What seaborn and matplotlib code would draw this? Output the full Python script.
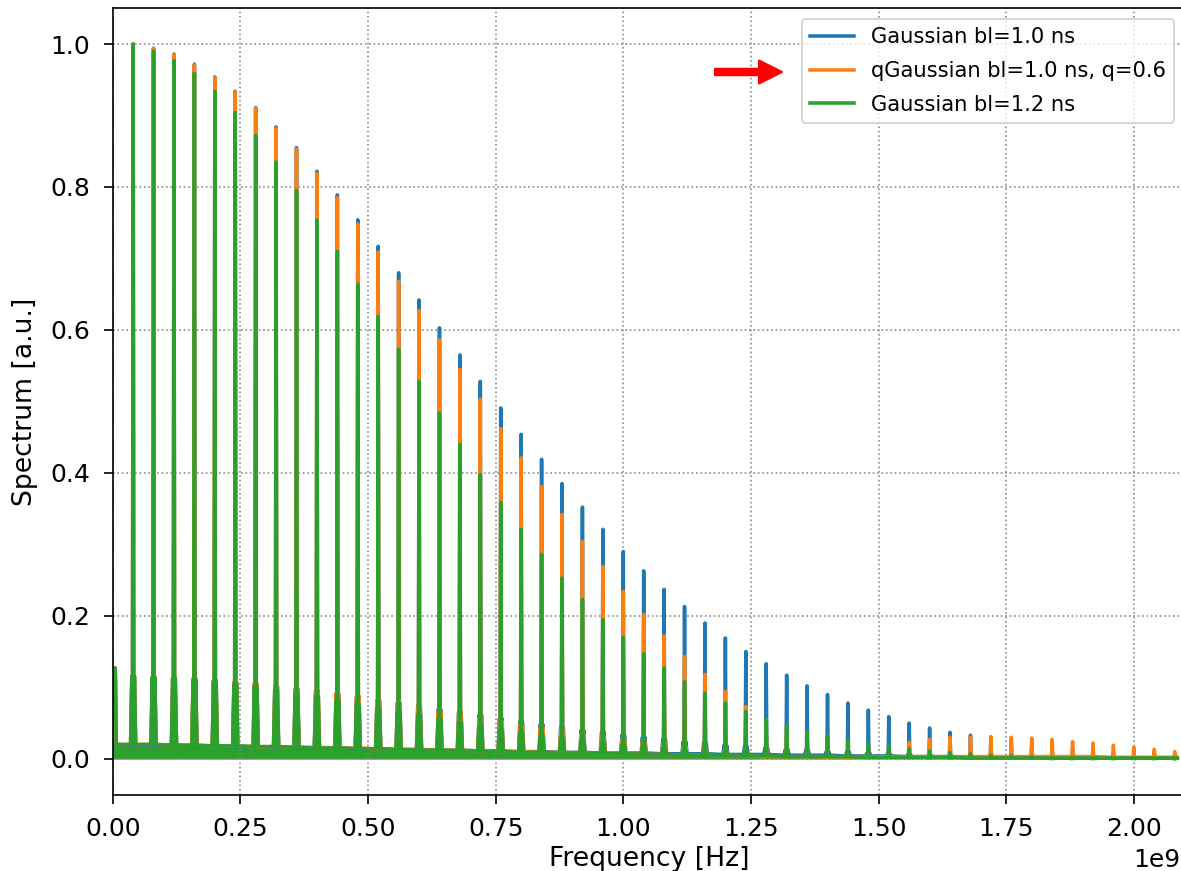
import numpy as np
import pandas as pd
import matplotlib
matplotlib.use("Agg")
import matplotlib.pyplot as plt
import seaborn as sns

# Bunch train spectrum: lines at multiples of the 40 MHz bunch repetition frequency
f_rev = 40e6
harmonic = np.arange(1, 53)

labels = ["Gaussian bl=1.0 ns", "qGaussian bl=1.0 ns, q=0.6", "Gaussian bl=1.2 ns"]
colors = ["#1f77b4", "#ff7f0e", "#2ca02c"]

# Height of each spectral line (normalised to the first harmonic)
peak_gauss_10 = [
    1.000, 0.994, 0.986, 0.972, 0.954, 0.934, 0.911, 0.884, 0.855, 0.822,
    0.789, 0.754, 0.717, 0.680, 0.642, 0.603, 0.565, 0.528, 0.491, 0.454,
    0.419, 0.385, 0.352, 0.321, 0.290, 0.263, 0.237, 0.213, 0.190, 0.169,
    0.150, 0.133, 0.117, 0.102, 0.090, 0.078, 0.068, 0.059, 0.050, 0.043,
    0.037, 0.033, 0.026, 0.022, 0.018, 0.015, 0.013, 0.011, 0.009, 0.007,
    0.006, 0.005,
]
peak_qgauss_10 = [
    1.000, 0.994, 0.985, 0.971, 0.953, 0.933, 0.910, 0.882, 0.853, 0.819,
    0.785, 0.748, 0.709, 0.668, 0.627, 0.586, 0.545, 0.503, 0.462, 0.421,
    0.381, 0.342, 0.304, 0.269, 0.234, 0.202, 0.172, 0.143, 0.118, 0.094,
    0.073, 0.054, 0.038, 0.024, 0.013, 0.005, 0.006, 0.014, 0.023, 0.027,
    0.030, 0.030, 0.031, 0.030, 0.029, 0.027, 0.024, 0.022, 0.019, 0.016,
    0.013, 0.010,
]
peak_gauss_12 = [
    1.000, 0.990, 0.977, 0.959, 0.934, 0.904, 0.872, 0.835, 0.795, 0.754,
    0.710, 0.664, 0.619, 0.573, 0.528, 0.484, 0.440, 0.398, 0.359, 0.321,
    0.286, 0.253, 0.223, 0.195, 0.170, 0.147, 0.127, 0.108, 0.092, 0.078,
    0.066, 0.056, 0.047, 0.038, 0.032, 0.026, 0.021, 0.018, 0.014, 0.011,
    0.009, 0.007, 0.005, 0.004, 0.003, 0.002, 0.002, 0.001, 0.001, 0.001,
    0.001, 0.000,
]

# First side lobe next to each line (finite train length)
lobe_gauss_10 = [
    0.115, 0.114, 0.113, 0.112, 0.110, 0.107, 0.105, 0.102, 0.098, 0.095,
    0.091, 0.087, 0.082, 0.078, 0.074, 0.069, 0.065, 0.061, 0.056, 0.052,
    0.048, 0.044, 0.040, 0.037, 0.033, 0.030, 0.027, 0.024, 0.022, 0.019,
    0.017, 0.015, 0.013, 0.012, 0.010, 0.009, 0.008, 0.007, 0.006, 0.005,
    0.004, 0.004, 0.003, 0.003, 0.002, 0.002, 0.001, 0.001, 0.001, 0.001,
    0.001, 0.001,
]
lobe_qgauss_10 = [
    0.115, 0.114, 0.113, 0.112, 0.110, 0.107, 0.105, 0.101, 0.098, 0.094,
    0.090, 0.086, 0.082, 0.077, 0.072, 0.067, 0.063, 0.058, 0.053, 0.048,
    0.044, 0.039, 0.035, 0.031, 0.027, 0.023, 0.020, 0.016, 0.014, 0.011,
    0.008, 0.006, 0.004, 0.003, 0.002, 0.001, 0.001, 0.002, 0.003, 0.003,
    0.003, 0.004, 0.004, 0.003, 0.003, 0.003, 0.003, 0.003, 0.002, 0.002,
    0.001, 0.001,
]
lobe_gauss_12 = [
    0.115, 0.114, 0.112, 0.110, 0.107, 0.104, 0.100, 0.096, 0.091, 0.087,
    0.082, 0.076, 0.071, 0.066, 0.061, 0.056, 0.051, 0.046, 0.041, 0.037,
    0.033, 0.029, 0.026, 0.022, 0.020, 0.017, 0.015, 0.012, 0.011, 0.009,
    0.008, 0.006, 0.005, 0.004, 0.004, 0.003, 0.002, 0.002, 0.002, 0.001,
    0.001, 0.001, 0.001, 0.001, 0.001, 0.000, 0.000, 0.000, 0.000, 0.000,
    0.000, 0.000,
]

# Level of the dense ripple between neighbouring lines
band_gauss_10 = [
    0.019, 0.019, 0.019, 0.018, 0.018, 0.017, 0.017, 0.016, 0.016, 0.015,
    0.015, 0.014, 0.014, 0.013, 0.013, 0.012, 0.012, 0.011, 0.011, 0.010,
    0.010, 0.009, 0.009, 0.008, 0.008, 0.008, 0.007, 0.007, 0.007, 0.006,
    0.006, 0.006, 0.005, 0.005, 0.005, 0.004, 0.004, 0.004, 0.003, 0.003,
    0.003, 0.002, 0.002, 0.002, 0.002, 0.001, 0.001, 0.001, 0.001, 0.001,
    0.001, 0.001,
]
band_qgauss_10 = [
    0.020, 0.020, 0.019, 0.019, 0.018, 0.018, 0.017, 0.017, 0.016, 0.016,
    0.015, 0.015, 0.014, 0.013, 0.013, 0.012, 0.012, 0.011, 0.010, 0.010,
    0.009, 0.009, 0.008, 0.007, 0.007, 0.006, 0.006, 0.005, 0.005, 0.004,
    0.004, 0.003, 0.003, 0.003, 0.003, 0.003, 0.003, 0.003, 0.003, 0.003,
    0.003, 0.003, 0.003, 0.003, 0.003, 0.003, 0.003, 0.003, 0.002, 0.002,
    0.002, 0.002,
]
band_gauss_12 = [
    0.020, 0.020, 0.019, 0.019, 0.018, 0.018, 0.017, 0.017, 0.016, 0.015,
    0.015, 0.014, 0.014, 0.013, 0.012, 0.012, 0.011, 0.011, 0.010, 0.009,
    0.009, 0.008, 0.008, 0.007, 0.007, 0.006, 0.006, 0.005, 0.005, 0.004,
    0.004, 0.004, 0.003, 0.003, 0.003, 0.003, 0.002, 0.002, 0.002, 0.002,
    0.002, 0.001, 0.001, 0.001, 0.001, 0.001, 0.001, 0.001, 0.001, 0.001,
    0.001, 0.001,
]

# Residual just above DC
edge_freq = [0.0, 3e6, 5e6, 7e6]
edge_level = [0.06, 0.06, 0.127, 0.02]

# Frequency offsets (Hz) of the points describing one line and its side lobes
shoulder_off, lobe_off, dip_off = 5e6, 2.5e6, 1.2e6


def trace(peaks, lobes, band):
    f, s = list(edge_freq), list(edge_level)
    for k, p, lo, b in zip(harmonic, peaks, lobes, band):
        fk = k * f_rev
        f += [fk - shoulder_off, fk - lobe_off, fk - dip_off, fk,
              fk + dip_off, fk + lobe_off, fk + shoulder_off]
        s += [b, lo, b, p, b, lo, b]
    return pd.DataFrame({"freq": f, "spectrum": s})


series = [
    trace(peak_gauss_10, lobe_gauss_10, band_gauss_10),
    trace(peak_qgauss_10, lobe_qgauss_10, band_qgauss_10),
    trace(peak_gauss_12, lobe_gauss_12, band_gauss_12),
]

plt.rcParams["font.size"] = 12

W, H, DPI = 1181, 871, 150
fig = plt.figure(figsize=(W / DPI, H / DPI), dpi=DPI)
ax = fig.add_axes([112.7 / W, 76.5 / H, 1072.2 / W, 786.2 / H])

for df, lab, col in zip(series, labels, colors):
    ax.fill_between(df["freq"], df["spectrum"], 0, color=col, lw=0)
    sns.lineplot(data=df, x="freq", y="spectrum", color=col, label=lab,
                 sort=False, estimator=None, lw=1.7, ax=ax)

ax.set_xlim(0, 2.1e9)
ax.set_ylim(-0.05, 1.05)
ax.tick_params(length=4.5, pad=6.5)
ax.grid(True, linestyle=":", color="0.55", lw=0.8)
ax.set_xlabel("Frequency [Hz]", fontsize=12.8, labelpad=2)
ax.set_ylabel("Spectrum [a.u.]", fontsize=12.8, labelpad=5.5)
ax.legend(loc="upper right", fontsize=10.1, labelspacing=0.65,
          handlelength=2.1)
ax.xaxis.get_offset_text().set_x((1180 - 112.7) / 1072.2)

ax.annotate("", xy=(782 / W, 1 - 72 / H), xytext=(715 / W, 1 - 72 / H),
            xycoords="figure fraction", textcoords="figure fraction",
            arrowprops=dict(facecolor="red", edgecolor="red", width=3.1,
                            headwidth=11, headlength=11))

fig.savefig("out.png", dpi=DPI)
